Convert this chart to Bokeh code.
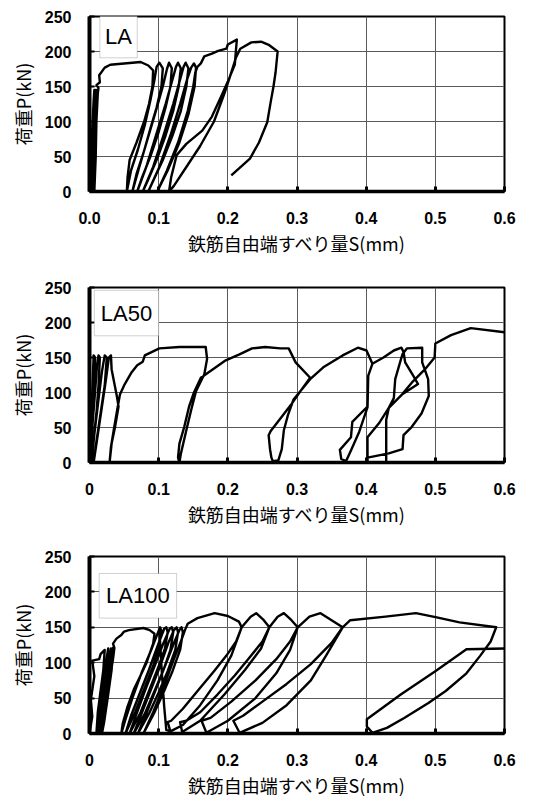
from bokeh.plotting import figure
from bokeh.models import Range1d, FixedTicker, BoxAnnotation, Label
from bokeh.layouts import column
from bokeh.embed import file_html
from bokeh.resources import INLINE

nan = float("nan")

# ---------------- data ----------------
x_ticks = [0, 0.1, 0.2, 0.3, 0.4, 0.5, 0.6]
y_ticks = [0, 50, 100, 150, 200, 250]
x_labels_la = ["0.0", "0.1", "0.2", "0.3", "0.4", "0.5", "0.6"]
x_labels_other = ["0", "0.1", "0.2", "0.3", "0.4", "0.5", "0.6"]
x_title = "鉄筋自由端すべり量S(mm)"
y_title = "荷重P(kN)"
names = ["LA", "LA50", "LA100"]

# LA : slip S (mm) / load P (kN); nan separates strokes
la_s = [0.000, 0.002, 0.004, 0.006, 0.007, 0.006, 0.004, 0.002, 0.002,
        0.004, 0.006, 0.008, 0.009, 0.008, 0.006, 0.004, 0.004,
        0.006, 0.008, 0.010, 0.011, 0.010, 0.008, 0.007, 0.007,
        0.009, 0.010, 0.012, 0.013,
        0.010, 0.015, 0.014, 0.022, 0.030, 0.074, 0.085, 0.092,
        0.091, 0.086, 0.079, 0.068, 0.058, 0.055, 0.054,
        0.060, 0.070, 0.080, 0.088, 0.094, 0.097, 0.101, 0.106,
        0.104, 0.097, 0.088, 0.078, 0.068, 0.062,
        0.072, 0.084, 0.096, 0.106, 0.112, 0.115, 0.119,
        0.117, 0.110, 0.100, 0.088, 0.076, 0.069,
        0.082, 0.096, 0.110, 0.120, 0.125, 0.128, 0.132,
        0.129, 0.121, 0.110, 0.097, 0.084, 0.077,
        0.092, 0.107, 0.121, 0.131, 0.136, 0.139, 0.143,
        0.140, 0.132, 0.120, 0.106, 0.092, 0.085,
        0.101, 0.117, 0.131, 0.141, 0.147, 0.151, 0.154,
        0.152, 0.143, 0.130, 0.113, 0.098,
        0.112, 0.128, 0.142, 0.150, 0.153, 0.156,
        0.161, 0.166, 0.177, 0.186, 0.198, 0.200, 0.213,
        0.210, 0.200, 0.189, 0.177, 0.163, 0.140, 0.126, 0.118, 0.115,
        0.122, 0.140, 0.160, 0.180, 0.195, 0.205, 0.212, 0.218, 0.234, 0.248, 0.260, 0.272,
        0.269, 0.266, 0.262, 0.257, 0.245, 0.232, 0.205]
la_p = [0, 40, 90, 130, 145, 110, 60, 20, 0,
        30, 80, 120, 145, 100, 50, 10, 0,
        40, 90, 130, 145, 100, 60, 20, 0,
        50, 100, 140, 148,
        152, 156, 166, 177, 181, 185, 180, 173,
        150, 125, 100, 70, 45, 20, 0,
        30, 60, 95, 130, 160, 178, 184, 176,
        150, 120, 90, 55, 25, 0,
        35, 75, 115, 150, 175, 184, 176,
        150, 120, 85, 50, 20, 0,
        35, 80, 125, 160, 178, 184, 176,
        150, 115, 80, 45, 15, 0,
        35, 80, 125, 160, 178, 184, 176,
        150, 115, 80, 45, 15, 0,
        35, 80, 125, 160, 177, 183, 177,
        150, 110, 70, 30, 0,
        30, 70, 115, 150, 170, 178,
        183, 193, 197, 201, 204, 210, 217,
        181, 157, 133, 107, 87, 68, 52, 20, 0,
        8, 35, 65, 100, 140, 170, 192, 204, 213, 214, 209, 200,
        170, 150, 128, 99, 70, 47, 23]

# LA50
la50_s = [0.000, 0.002, 0.004, 0.006, 0.008, 0.006, 0.003, 0.001,
          0.004, 0.008, 0.011, 0.013, 0.015, 0.013, 0.010, 0.005, 0.003,
          0.007, 0.013, 0.018, 0.022, 0.025, 0.022, 0.016, 0.010, 0.006,
          0.012, 0.018, 0.024, 0.028, 0.031,
          0.032, 0.0395, 0.042, 0.037, 0.032, 0.029,
          0.031, 0.035, 0.040, 0.044, 0.051, 0.061, 0.069, 0.077, 0.080, 0.101, 0.130, 0.168,
          0.170, 0.166, 0.154, 0.147, 0.140, 0.132, 0.130,
          0.128, 0.130, 0.137, 0.144, 0.151, 0.161, 0.178, 0.197, 0.216, 0.235, 0.254, 0.276, 0.288,
          0.298, 0.319,
          0.305, 0.291, 0.276, 0.262, 0.259, 0.261, 0.263, 0.265, 0.273,
          0.278, 0.281, 0.287, 0.295, 0.319, 0.338, 0.366, 0.388, 0.4005, 0.409,
          0.403, 0.402, 0.380, 0.378, 0.362, 0.364, 0.371,
          0.378, 0.390, 0.402, 0.403, 0.409, 0.425, 0.440, 0.451, 0.454, 0.4564, 0.468, 0.475,
          0.4517, 0.4327, 0.4185, 0.4019, 0.402,
          0.402, 0.4327, 0.4526, 0.454, 0.466, 0.480, 0.4905, 0.4896, 0.481, 0.481, 0.4588,
          0.4526, 0.449, 0.442, 0.440, 0.4327, 0.429, 0.429,
          nan,
          0.4517, 0.4659, 0.4848, 0.499, 0.500, 0.5227, 0.5512, 0.600]
la50_p = [0, 50, 100, 153, 150, 100, 40, 0,
          50, 100, 140, 153, 150, 110, 70, 25, 0,
          40, 90, 130, 153, 150, 110, 70, 30, 0,
          40, 80, 120, 150, 153,
          133, 95, 80, 51, 27, 0,
          22, 46, 75, 97, 112, 129, 139, 144, 153, 163, 165, 165,
          148, 126, 102, 75, 46, 12, 0,
          7, 27, 51, 80, 100, 121, 133, 146, 154, 163, 165, 163, 163,
          143, 121,
          102, 82, 63, 45, 39, 19, 7, 2, 3,
          19, 46, 68, 90, 119, 136, 153, 164, 160, 141,
          124, 80, 58, 36, 18, 5, 2,
          17, 44, 79, 124, 141, 150, 160, 164, 158, 143, 124, 112,
          97, 78, 56, 36, 2,
          7, 13, 19, 39, 51, 70, 95, 119, 143, 164, 163,
          155, 143, 119, 92, 78, 61, 2,
          nan,
          97, 114, 133, 150, 170, 182, 192, 186]

# LA100
la100_s = [0.000, 0.004, 0.002, 0.007, 0.004, 0.014, 0.016, 0.022,
           0.020, 0.016, 0.012, 0.010,
           0.013, 0.018, 0.023, 0.027, 0.025, 0.020, 0.015, 0.013,
           0.017, 0.022, 0.027, 0.031, 0.029, 0.024, 0.019, 0.016,
           0.020, 0.026, 0.031, 0.034, 0.032, 0.027, 0.021, 0.018,
           0.022, 0.029, 0.034, 0.036,
           0.034, 0.039, 0.046, 0.050, 0.057, 0.078, 0.087, 0.094,
           0.092, 0.0825, 0.0733, 0.064, 0.055, 0.048, 0.046,
           0.052, 0.062, 0.075, 0.088, 0.098, 0.102, 0.104,
           0.100, 0.092, 0.080, 0.066, 0.052,
           0.060, 0.072, 0.086, 0.099, 0.108, 0.111, 0.113,
           0.109, 0.100, 0.088, 0.074, 0.058,
           0.067, 0.080, 0.094, 0.107, 0.116, 0.119, 0.121,
           0.117, 0.107, 0.094, 0.080, 0.064,
           0.074, 0.088, 0.102, 0.114, 0.122, 0.126, 0.128,
           0.124, 0.113, 0.100, 0.086, 0.070,
           0.082, 0.097, 0.111, 0.123, 0.130, 0.133, 0.135,
           0.131, 0.120, 0.107, 0.093, 0.078,
           0.092, 0.108, 0.122, 0.134, 0.138, 0.142, 0.156, 0.181, 0.200, 0.216, 0.220,
           0.212, 0.198, 0.180, 0.158, 0.135, 0.118, 0.113, 0.117,
           0.135, 0.160, 0.185, 0.205, 0.220, 0.233, 0.241, 0.252, 0.260,
           0.250, 0.232, 0.210, 0.185, 0.160, 0.140, 0.131, 0.134,
           0.160, 0.195, 0.225, 0.248, 0.260, 0.272, 0.281, 0.292, 0.301,
           0.290, 0.270, 0.240, 0.205, 0.175, 0.162, 0.169,
           0.200, 0.240, 0.270, 0.290, 0.301, 0.318, 0.334, 0.350, 0.366,
           0.350, 0.320, 0.285, 0.250, 0.222, 0.208, 0.217,
           0.250, 0.285, 0.320, 0.342, 0.366, 0.377, 0.428, 0.472, 0.502, 0.535, 0.588,
           0.580, 0.565, 0.545, 0.515, 0.490, 0.455, 0.430, 0.409,
           0.401, 0.401, 0.450, 0.500, 0.545, 0.600,
           nan,
           0.101, 0.1046, 0.108, 0.111, 0.117]
la100_p = [0, 24, 48, 81, 103, 105, 112, 118,
           90, 60, 30, 0,
           30, 65, 95, 120, 90, 55, 20, 0,
           35, 70, 100, 120, 90, 55, 20, 0,
           35, 75, 105, 121, 90, 55, 15, 0,
           35, 75, 105, 121,
           127, 134, 139, 144, 146, 149, 146, 141,
           127, 100, 81, 62, 38, 14, 0,
           20, 50, 85, 115, 140, 150, 145,
           120, 95, 65, 30, 0,
           25, 55, 90, 125, 148, 150, 143,
           120, 95, 65, 30, 0,
           25, 60, 95, 128, 148, 150, 143,
           118, 90, 60, 28, 0,
           25, 60, 95, 128, 146, 150, 143,
           118, 88, 58, 28, 0,
           28, 65, 100, 130, 146, 150, 143,
           118, 88, 58, 28, 0,
           30, 68, 105, 135, 146, 155, 163, 170, 166, 158, 150,
           130, 110, 88, 62, 35, 18, 16, 3,
           12, 40, 75, 110, 150, 165, 170, 160, 150,
           130, 108, 82, 55, 30, 18, 16, 2,
           18, 55, 90, 120, 150, 165, 170, 160, 150,
           130, 105, 75, 45, 22, 18, 1,
           18, 50, 85, 118, 150, 165, 170, 160, 150,
           128, 98, 70, 45, 25, 18, 1,
           15, 40, 75, 110, 150, 160, 165, 170, 164, 157, 150,
           130, 110, 85, 60, 43, 22, 8, 1,
           10, 20, 55, 88, 119, 120,
           nan,
           148, 86, 38, 5, 3]

series = [(la_s, la_p), (la50_s, la50_p), (la100_s, la100_p)]

# ---------------- styling ----------------
TICK_FONT = "Liberation Sans"
CJK_FONT = "Noto Sans CJK JP"

# per-panel layout: (min_border_top, frame_height, min_border_bottom, box [l, r, b, t])
layouts = [
    (16, 175, 75, (0.015, 0.069, 191, 251)),
    (21, 175, 72, (0.007, 0.100, 181, 246)),
    (22, 177, 67, (0.014, 0.126, 163, 226)),
]


def make_panel(i):
    s, p = series[i]
    top, fh, bottom, box = layouts[i]
    fig = figure(frame_width=415, frame_height=fh,
                 min_border_left=89, min_border_right=38,
                 min_border_top=top, min_border_bottom=bottom,
                 x_range=Range1d(0, 0.6), y_range=Range1d(0, 250),
                 output_backend="svg", toolbar_location=None,
                 background_fill_color="white", border_fill_color="white")
    fig.outline_line_color = "black"
    fig.outline_line_width = 2

    fig.xaxis.ticker = FixedTicker(ticks=x_ticks)
    fig.yaxis.ticker = FixedTicker(ticks=y_ticks)
    labels = x_labels_la if i == 0 else x_labels_other
    fig.xaxis.major_label_overrides = {t: l for t, l in zip(x_ticks, labels)}
    fig.xaxis.minor_tick_line_color = None
    fig.yaxis.minor_tick_line_color = None

    for ax in (fig.xaxis[0], fig.yaxis[0]):
        ax.axis_line_color = "black"
        ax.major_tick_line_color = "black"
        ax.major_tick_out = 0
        ax.major_tick_in = 5
        ax.major_label_text_font = TICK_FONT
        ax.major_label_text_font_style = "bold"
        ax.major_label_text_font_size = "16px"
        ax.major_label_text_color = "black"
        ax.axis_label_text_font = CJK_FONT
        ax.axis_label_text_font_style = "normal"
        ax.axis_label_text_font_size = "18px"
        ax.axis_label_text_color = "black"
    fig.xaxis.axis_line_width = 3.5
    fig.yaxis.axis_line_width = 4
    fig.xaxis.major_tick_line_width = 3
    fig.yaxis.major_tick_line_width = 2
    fig.xaxis.major_label_standoff = 20
    fig.yaxis.major_label_standoff = 18
    fig.xaxis.axis_label = x_title
    fig.yaxis.axis_label = y_title
    fig.xaxis.axis_label_standoff = 3
    fig.yaxis.axis_label_standoff = 6

    fig.xgrid.ticker = FixedTicker(ticks=x_ticks)
    fig.ygrid.ticker = FixedTicker(ticks=y_ticks)
    for g in (fig.xgrid[0], fig.ygrid[0]):
        g.grid_line_color = "#5a5a5a"
        g.grid_line_width = 1

    fig.line(s, p, line_color="black", line_width=2.4, line_join="round")

    l, r, b, t = box
    fig.add_layout(BoxAnnotation(left=l, right=r, bottom=b, top=t,
                                 fill_color="white", fill_alpha=1,
                                 line_color="#666666", line_width=1))
    fig.add_layout(Label(x=(l + r) / 2, y=(b + t) / 2, text=names[i],
                         text_align="center", text_baseline="middle",
                         text_font=TICK_FONT, text_font_size="22px",
                         text_color="black"))
    return fig


figs = [make_panel(i) for i in range(3)]
layout = column(*figs, spacing=0)
open("out.html", "w").write(file_html(layout, INLINE))
